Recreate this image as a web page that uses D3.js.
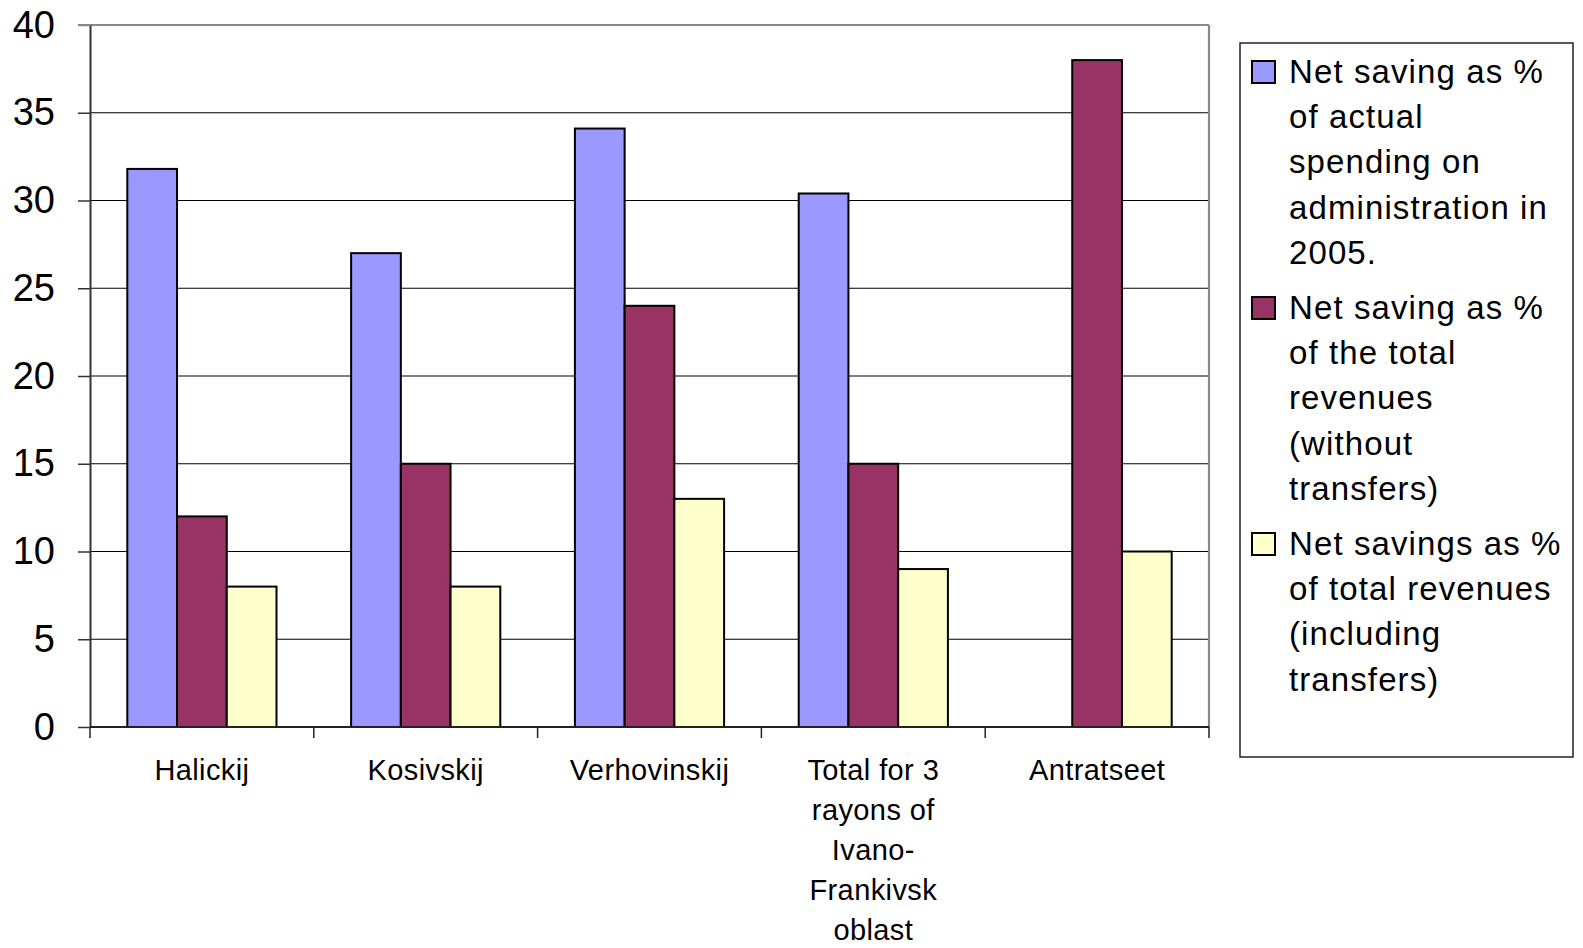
<!DOCTYPE html>
<html>
<head>
<meta charset="utf-8">
<script src="https://cdn.jsdelivr.net/npm/d3@7"></script>
<style>
  html, body { margin: 0; padding: 0; background: #fff; }
  svg { display: block; font-family: "Liberation Sans", Arial, sans-serif; }
</style>
</head>
<body>
<svg id="chart" width="1583" height="948"></svg>
<script>
// ---- data ----
const categories = ["Halickij", "Kosivskij", "Verhovinskij", "Total for 3 rayons of Ivano-Frankivsk oblast", "Antratseet"];
const categoryLines = [["Halickij"], ["Kosivskij"], ["Verhovinskij"], ["Total for 3", "rayons of", "Ivano-", "Frankivsk", "oblast"], ["Antratseet"]];
const seriesNames = [
  "Net saving as % of actual spending on administration in 2005.",
  "Net saving as % of the total revenues (without transfers)",
  "Net savings as % of total revenues (including transfers)"
];
const seriesLegendLines = [
  ["Net saving as %", "of actual", "spending on", "administration in", "2005."],
  ["Net saving as %", "of the total", "revenues", "(without", "transfers)"],
  ["Net savings as %", "of total revenues", "(including", "transfers)"]
];
const spendingShare = [31.8, 27, 34.1, 30.4, null];
const revenueNoTransfers = [12, 15, 24, 15, 38];
const revenueWithTransfers = [8, 8, 13, 9, 10];
const yTicks = [0, 5, 10, 15, 20, 25, 30, 35, 40];
const colors = ["#9999FF", "#993366", "#FFFFCC"];

const seriesValues = [spendingShare, revenueNoTransfers, revenueWithTransfers];

// ---- layout ----
const svg = d3.select("#chart");
const pLeft = 90, pRight = 1209, pTop = 25, pBottom = 727;

const y = d3.scaleLinear().domain([0, 40]).range([pBottom, pTop]);
const x0 = d3.scaleBand().domain(categories).range([pLeft, pRight]).padding(0);
const x1 = d3.scaleBand().domain(d3.range(seriesNames.length))
  .range([0, x0.bandwidth()]).paddingInner(0).paddingOuter(0.75);

// gridlines
svg.append("g").selectAll("line")
  .data(yTicks.filter(t => t > 0 && t < 40))
  .join("line")
  .attr("x1", pLeft).attr("x2", pRight)
  .attr("y1", d => y(d)).attr("y2", d => y(d))
  .attr("stroke", "#000").attr("stroke-width", 1.2);

// plot border (top & right, gray)
svg.append("line").attr("x1", pLeft - 12).attr("x2", pRight).attr("y1", y(40)).attr("y2", y(40))
  .attr("stroke", "#888").attr("stroke-width", 2.2);
svg.append("line").attr("x1", pRight).attr("x2", pRight).attr("y1", pTop).attr("y2", pBottom)
  .attr("stroke", "#888").attr("stroke-width", 2.2);

// bars
const rows = [];
categories.forEach((c, i) => {
  seriesValues.forEach((vals, s) => {
    if (vals[i] != null) rows.push({ c, s, v: vals[i] });
  });
});
svg.append("g").selectAll("rect")
  .data(rows)
  .join("rect")
  .attr("x", d => x0(d.c) + x1(d.s))
  .attr("width", x1.bandwidth())
  .attr("y", d => y(d.v))
  .attr("height", d => y(0) - y(d.v))
  .attr("fill", d => colors[d.s])
  .attr("stroke", "#000")
  .attr("stroke-width", 2);

// y axis
const yAxis = d3.axisLeft(y).tickValues(yTicks).tickSize(12).tickSizeOuter(0).tickPadding(23);
const gy = svg.append("g").attr("transform", `translate(${pLeft},0)`).call(yAxis);
gy.select(".domain").attr("stroke", "#333").attr("stroke-width", 2);
gy.selectAll(".tick line").attr("stroke", "#333").attr("stroke-width", 1.5);
gy.selectAll(".tick text").attr("font-size", 38).attr("fill", "#000")
  .attr("font-family", "'Liberation Sans', Arial, sans-serif");
gy.selectAll(".tick").filter(d => d === 40).select("line").attr("stroke", "#888");

// x axis line and boundary ticks
svg.append("line").attr("x1", pLeft).attr("x2", pRight).attr("y1", pBottom).attr("y2", pBottom)
  .attr("stroke", "#222").attr("stroke-width", 2);
const boundaries = categories.map(c => x0(c)).concat([pRight]);
svg.append("g").selectAll("line").data(boundaries).join("line")
  .attr("x1", d => d).attr("x2", d => d)
  .attr("y1", pBottom).attr("y2", pBottom + 11)
  .attr("stroke", "#222").attr("stroke-width", 1.5);

// category labels
const labG = svg.append("g");
categories.forEach((c, i) => {
  const cx = x0(c) + x0.bandwidth() / 2;
  const t = labG.append("text")
    .attr("x", cx)
    .attr("y", 780)
    .attr("text-anchor", "middle")
    .attr("font-size", 29)
    .attr("letter-spacing", 0.4)
    .attr("fill", "#000");
  categoryLines[i].forEach((ln, k) => {
    t.append("tspan").attr("x", cx)
      .attr("dy", k === 0 ? 0 : 40).text(ln);
  });
});

// legend
const lg = svg.append("g");
lg.append("rect").attr("x", 1240).attr("y", 43).attr("width", 333).attr("height", 714)
  .attr("fill", "#fff").attr("stroke", "#222").attr("stroke-width", 1.5);
let baseY = 83;
const lineH = 45.2;
seriesNames.forEach((name, s) => {
  lg.append("rect").attr("x", 1252).attr("y", baseY - 22).attr("width", 23).attr("height", 22)
    .attr("fill", colors[s]).attr("stroke", "#000").attr("stroke-width", 2);
  const t = lg.append("text").attr("x", 1289).attr("y", baseY)
    .attr("font-size", 33).attr("letter-spacing", 1.1).attr("fill", "#000");
  seriesLegendLines[s].forEach((ln, k) => {
    t.append("tspan").attr("x", 1289).attr("dy", k === 0 ? 0 : lineH).text(ln);
  });
  baseY += seriesLegendLines[s].length * lineH + 10;
});
</script>
</body>
</html>
